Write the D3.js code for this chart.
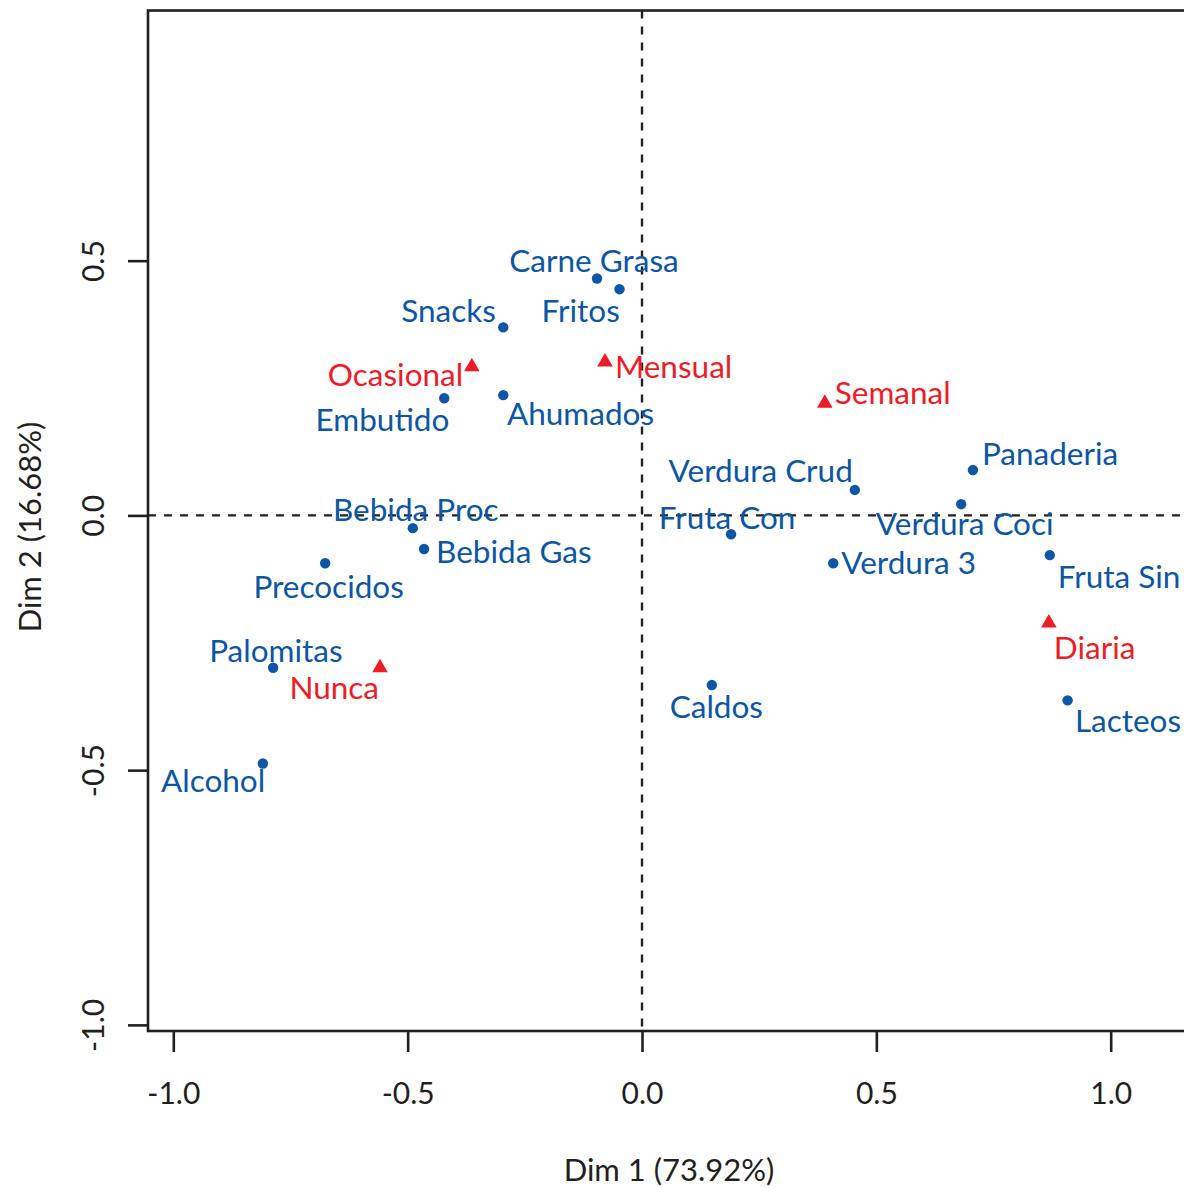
<!DOCTYPE html>
<html>
<head>
<meta charset="utf-8">
<script src="https://cdn.jsdelivr.net/npm/d3@7"></script>
<style>
  html, body { margin: 0; padding: 0; background: #fff; }
  svg { display: block; }
  text { font-family: Lato, "Open Sans", sans-serif; }
</style>
</head>
<body>
<svg id="chart" width="1184" height="1188"></svg>
<script>
// ---- data ----
const rowNames = ["Carne Grasa","Fritos","Snacks","Embutido","Ahumados","Verdura Crud","Panaderia",
  "Verdura Coci","Fruta Con","Verdura 3","Fruta Sin","Lacteos","Caldos","Bebida Proc","Bebida Gas",
  "Precocidos","Palomitas","Alcohol"];
const rowDim1 = [-0.096,-0.048,-0.296,-0.422,-0.296,0.454,0.706,0.681,0.190,0.408,0.870,0.908,0.149,
  -0.489,-0.465,-0.676,-0.787,-0.809];
const rowDim2 = [0.465,0.444,0.369,0.230,0.236,0.050,0.089,0.022,-0.037,-0.094,-0.078,-0.363,-0.333,
  -0.025,-0.066,-0.094,-0.299,-0.487];

const colNames = ["Ocasional","Mensual","Semanal","Diaria","Nunca"];
const colDim1 = [-0.363,-0.079,0.390,0.868,-0.559];
const colDim2 = [0.292,0.301,0.220,-0.211,-0.299];

const xTicks = [-1.0,-0.5,0.0,0.5,1.0];
const yTicks = [-1.0,-0.5,0.0,0.5];
const xTitle = "Dim 1 (73.92%)";
const yTitle = "Dim 2 (16.68%)";

// ---- layout: label placement relative to each point (anchor, dx px, dy px to baseline) ----
const rowLabelPlace = [
  ["middle",-3,-6.3],["middle",-38.8,32.4],["end",-7.3,-5.3],["middle",-61.8,32.4],["start",3.7,30],
  ["end",-2,-8],["start",9,-5],["middle",3.5,31],["middle",-4,-5],["start",8,11],["start",8,33],
  ["start",7.3,31.7],["middle",4.5,33],["middle",3,-7],["start",12,14],["middle",3.5,35],
  ["middle",2.7,-6],["end",2.3,28.7]
];
const colLabelPlace = [
  ["end",-8.7,19],["start",10,16],["start",10,1],["start",5,35.6],["end",-1,31.6]
];

const blue = "#0b56a6", red = "#ee1c25", ink = "#231f20";
const fmt = v => d3.format(".1f")(v).replace("\u2212", "-");

const svg = d3.select("#chart");
const x = d3.scaleLinear().domain([-1.054, 1.19]).range([148, 148 + 468.7 * (1.19 + 1.054)]);
const y = d3.scaleLinear().domain([-1.012, 0.991]).range([1031, 10.5]);

const plotW = x(1.19) - x(-1.054);

// box
svg.append("rect")
  .attr("x", x(-1.054)).attr("y", y(0.991))
  .attr("width", plotW).attr("height", y(-1.012) - y(0.991))
  .attr("fill", "none").attr("stroke", ink).attr("stroke-width", 2.6);

// axes
const xAxis = d3.axisBottom(x).tickValues(xTicks).tickSize(21).tickFormat(fmt);
const gx = svg.append("g").attr("transform", `translate(0,${y(-1.012)})`).call(xAxis);
gx.select(".domain").remove();
gx.selectAll(".tick line").attr("stroke", ink).attr("stroke-width", 2.6);
gx.selectAll(".tick text").attr("fill", ink).attr("font-size", 30)
  .attr("dy", null).attr("y", 73).style("font-family", "Lato, 'Open Sans', sans-serif");

const yAxis = d3.axisLeft(y).tickValues(yTicks).tickSize(20).tickFormat(fmt);
const gy = svg.append("g").attr("transform", `translate(${x(-1.054)},0)`).call(yAxis);
gy.select(".domain").remove();
gy.selectAll(".tick line").attr("stroke", ink).attr("stroke-width", 2.6);
gy.selectAll(".tick text").attr("fill", ink).attr("font-size", 30)
  .attr("x", null).attr("dy", null)
  .attr("text-anchor", "middle")
  .attr("transform", "translate(-44,0) rotate(-90)")
  .style("font-family", "Lato, 'Open Sans', sans-serif");

// zero reference lines
svg.append("line")
  .attr("x1", x(-1.054)).attr("x2", x(1.19)).attr("y1", y(0)).attr("y2", y(0))
  .attr("stroke", ink).attr("stroke-width", 2.4).attr("stroke-dasharray", "8,8");
svg.append("line")
  .attr("x1", x(0)).attr("x2", x(0)).attr("y1", y(0.991)).attr("y2", y(-1.012))
  .attr("stroke", ink).attr("stroke-width", 2.4).attr("stroke-dasharray", "8,8");

// axis titles
svg.append("text").attr("x", 669).attr("y", 1181).attr("text-anchor", "middle")
  .attr("font-size", 31).attr("fill", ink).text(xTitle);
svg.append("text").attr("transform", "translate(41,527) rotate(-90)").attr("text-anchor", "middle")
  .attr("font-size", 31).attr("fill", ink).text(yTitle);

// rows & columns
const rows = rowNames.map((n, i) => ({ name: n, d1: rowDim1[i], d2: rowDim2[i], place: rowLabelPlace[i] }));
const cols = colNames.map((n, i) => ({ name: n, d1: colDim1[i], d2: colDim2[i], place: colLabelPlace[i] }));

svg.append("g").selectAll("circle").data(rows).join("circle")
  .attr("cx", d => x(d.d1)).attr("cy", d => y(d.d2)).attr("r", 5.2).attr("fill", blue);

svg.append("g").selectAll("path").data(cols).join("path")
  .attr("d", d3.symbol().type(d3.symbolTriangle).size(105))
  .attr("transform", d => `translate(${x(d.d1)},${y(d.d2)})`)
  .attr("fill", red);

svg.append("g").selectAll("text").data(rows).join("text")
  .attr("x", d => x(d.d1) + d.place[1]).attr("y", d => y(d.d2) + d.place[2])
  .attr("text-anchor", d => d.place[0]).attr("font-size", 31.5).attr("fill", blue)
  .text(d => d.name);

svg.append("g").selectAll("text").data(cols).join("text")
  .attr("x", d => x(d.d1) + d.place[1]).attr("y", d => y(d.d2) + d.place[2])
  .attr("text-anchor", d => d.place[0]).attr("font-size", 31.5).attr("fill", red)
  .text(d => d.name);
</script>
</body>
</html>
